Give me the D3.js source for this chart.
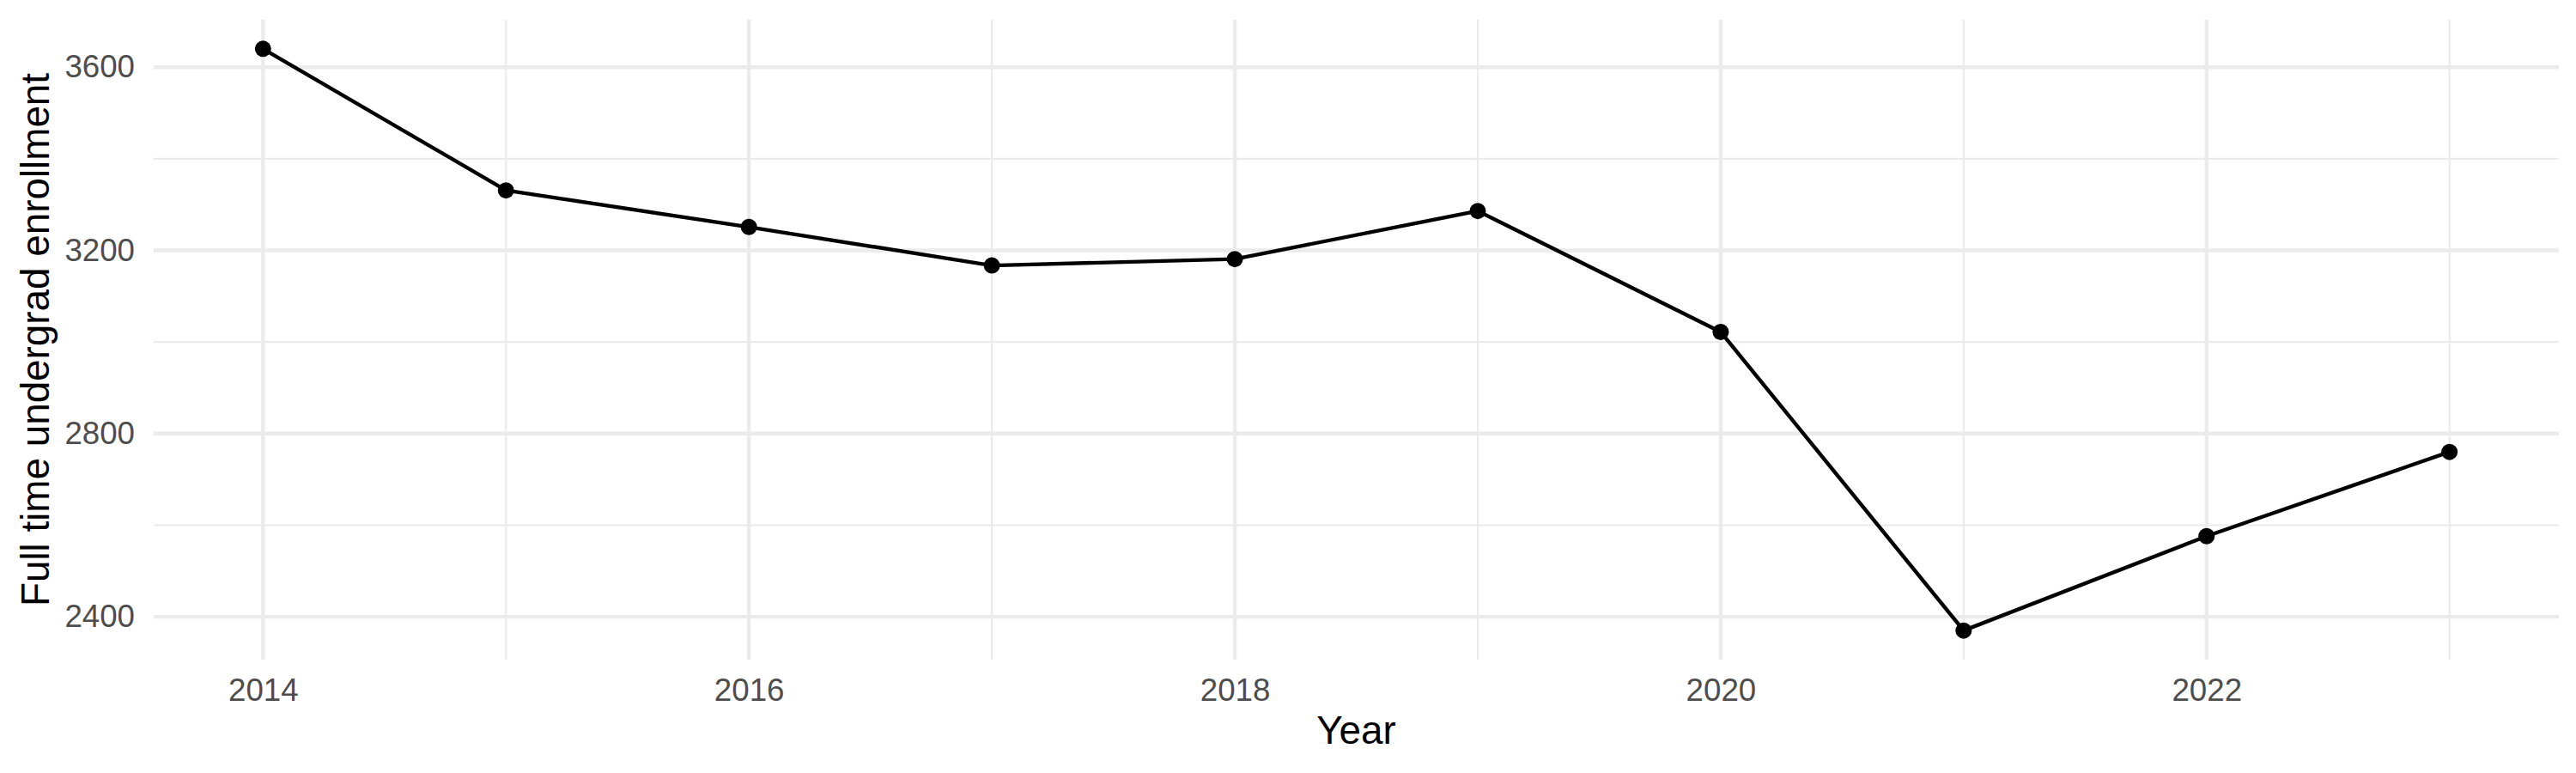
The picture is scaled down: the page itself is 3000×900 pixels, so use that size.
<!DOCTYPE html>
<html>
<head>
<meta charset="utf-8">
<script src="https://cdn.jsdelivr.net/npm/d3@7"></script>
<style>
  body { margin: 0; background: #fff; }
  text { font-family: "Liberation Sans", Arial, sans-serif; }
</style>
</head>
<body>
<div id="chart"></div>
<script>
// values
const years = [2014, 2015, 2016, 2017, 2018, 2019, 2020, 2021, 2022, 2023];
const enrollment = [3640, 3331, 3251, 3167, 3181, 3286, 3022, 2370, 2576, 2760];

const xMajorTicks = [2014, 2016, 2018, 2020, 2022];
const xMinorTicks = [2015, 2017, 2019, 2021, 2023];
const yMajorTicks = [2400, 2800, 3200, 3600];
const yMinorTicks = [2600, 3000, 3400];

const width = 3000, height = 900;
const marge = { top: 23, left: 179, right: 20, bottom: 132 };

const svg = d3.select("#chart").append("svg")
    .attr("width", width)
    .attr("height", height)
    .style("background", "#fff");

// ggplot style 5% expansion on both scales
function expand(ext){
    let pad = (ext[1] - ext[0]) * 0.05;
    return [ext[0] - pad, ext[1] + pad];
}

const x = d3.scaleLinear()
    .domain(expand(d3.extent(years)))
    .range([marge.left, width - marge.right]);

const y = d3.scaleLinear()
    .domain(expand(d3.extent(enrollment)))
    .range([height - marge.bottom, marge.top]);

const panelTop = marge.top, panelBottom = height - marge.bottom;
const panelLeft = marge.left, panelRight = width - marge.right;

// grid
const grid = svg.append("g");
function gridLines(ticks, w){
    grid.append("g").selectAll("line").data(ticks).join("line")
        .attr("x1", panelLeft).attr("x2", panelRight)
        .attr("y1", d => y(d)).attr("y2", d => y(d))
        .attr("stroke", "#EBEBEB").attr("stroke-width", w);
}
function vGridLines(ticks, w){
    grid.append("g").selectAll("line").data(ticks).join("line")
        .attr("y1", panelTop).attr("y2", panelBottom)
        .attr("x1", d => x(d)).attr("x2", d => x(d))
        .attr("stroke", "#EBEBEB").attr("stroke-width", w);
}
gridLines(yMinorTicks, 2.2);
vGridLines(xMinorTicks, 2.2);
gridLines(yMajorTicks, 4.4);
vGridLines(xMajorTicks, 4.4);

// axes (labels only, like theme_minimal)
const xAxis = svg.append("g")
    .attr("transform", `translate(0, ${panelBottom})`)
    .call(d3.axisBottom(x).tickValues(xMajorTicks).tickFormat(d3.format("d")).tickSize(0).tickPadding(22));
const yAxis = svg.append("g")
    .attr("transform", `translate(${panelLeft}, 0)`)
    .call(d3.axisLeft(y).tickValues(yMajorTicks).tickFormat(d3.format("d")).tickSize(0).tickPadding(22));

[xAxis, yAxis].forEach(a => {
    a.select(".domain").remove();
    a.selectAll("text")
        .attr("fill", "#4D4D4D")
        .style("font-size", "36.7px")
        .style("font-family", "'Liberation Sans', Arial, sans-serif");
});

// line + points
const data = years.map((yr, i) => ({ year: yr, value: enrollment[i] }));

svg.append("path")
    .datum(data)
    .attr("fill", "none")
    .attr("stroke", "#000")
    .attr("stroke-width", 4.4)
    .attr("stroke-linejoin", "round")
    .attr("d", d3.line().x(d => x(d.year)).y(d => y(d.value)));

svg.append("g").selectAll("circle").data(data).join("circle")
    .attr("cx", d => x(d.year))
    .attr("cy", d => y(d.value))
    .attr("r", 9.5)
    .attr("fill", "#000");

// titles
svg.append("text")
    .attr("x", (panelLeft + panelRight) / 2)
    .attr("y", 866)
    .attr("text-anchor", "middle")
    .attr("fill", "#000")
    .style("font-size", "45.8px")
    .text("Year");

svg.append("text")
    .attr("transform", `translate(57, ${(panelTop + panelBottom) / 2}) rotate(-90)`)
    .attr("text-anchor", "middle")
    .attr("fill", "#000")
    .style("font-size", "45.8px")
    .text("Full time undergrad enrollment");
</script>
</body>
</html>
